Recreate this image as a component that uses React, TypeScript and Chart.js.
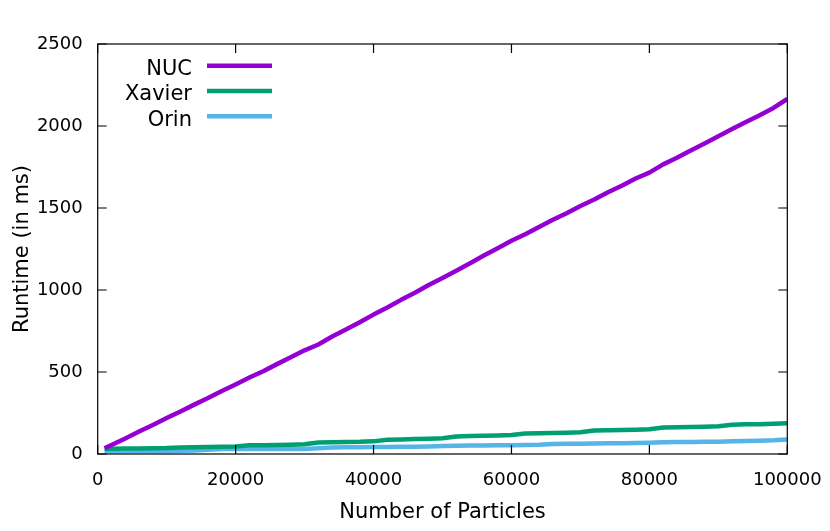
import React, { useEffect, useRef } from "react";
import { Chart, registerables } from "chart.js";

Chart.register(...registerables);

const particles = [1000, 2000, 4000, 6000, 8000, 10000, 12000, 14000, 16000, 18000, 20000, 22000, 24000, 26000, 28000, 30000, 32000, 34000, 36000, 38000, 40000, 42000, 44000, 46000, 48000, 50000, 52000, 54000, 56000, 58000, 60000, 62000, 64000, 66000, 68000, 70000, 72000, 74000, 76000, 78000, 80000, 82000, 84000, 86000, 88000, 90000, 92000, 94000, 96000, 98000, 100000];

const nucRuntime = [35, 55, 95, 137, 177, 219, 259, 301, 341, 384, 424, 466, 505, 548, 590, 632, 668, 716, 759, 803, 850, 893, 940, 983, 1030, 1073, 1118, 1163, 1210, 1255, 1300, 1340, 1384, 1428, 1468, 1512, 1552, 1596, 1636, 1680, 1716, 1766, 1806, 1851, 1893, 1937, 1981, 2024, 2066, 2110, 2165];

const xavierRuntime = [32, 32, 33, 34, 35, 36, 40, 41, 42, 44, 46, 53, 54, 55, 57, 59, 70, 72, 73, 74, 77, 87, 89, 91, 93, 96, 107, 109, 111, 113, 116, 125, 127, 128, 130, 133, 143, 145, 146, 148, 151, 161, 163, 164, 166, 169, 179, 181, 182, 184, 187];

const orinRuntime = [20, 19, 18, 18, 19, 19, 20, 21, 26, 30, 31, 30, 30, 30, 31, 31, 35, 40, 41, 41, 42, 43, 44, 44, 46, 49, 51, 52, 52, 53, 54, 55, 57, 61, 62, 63, 64, 65, 66, 67, 69, 72, 73, 73, 74, 75, 77, 79, 81, 84, 89];

const seriesLabels = ["NUC", "Xavier", "Orin"];
const seriesColors = ["#9400D3", "#009E73", "#56B4E9"];
const xTicks = [0, 20000, 40000, 60000, 80000, 100000];
const yTicks = [0, 500, 1000, 1500, 2000, 2500];

const FONT = "'DejaVu Sans', sans-serif";

const framePlugin = {
  id: "gnuplotFrame",
  afterDatasetsDraw(chart: any) {
    const { ctx, chartArea, scales } = chart;
    const { left, right, top, bottom } = chartArea;
    const tl = 9;
    ctx.save();
    ctx.strokeStyle = "#000";
    ctx.lineWidth = 1.2;
    ctx.beginPath();
    for (const v of xTicks) {
      const px = scales.x.getPixelForValue(v);
      ctx.moveTo(px, bottom);
      ctx.lineTo(px, bottom - tl);
      ctx.moveTo(px, top);
      ctx.lineTo(px, top + tl);
    }
    for (const v of yTicks) {
      const py = scales.y.getPixelForValue(v);
      ctx.moveTo(left, py);
      ctx.lineTo(left + tl, py);
      ctx.moveTo(right, py);
      ctx.lineTo(right - tl, py);
    }
    ctx.stroke();
    ctx.strokeRect(left, top, right - left, bottom - top);

    // legend
    ctx.font = `21px ${FONT}`;
    ctx.textAlign = "right";
    ctx.textBaseline = "alphabetic";
    const textRight = 192;
    const lineX0 = 207;
    const lineX1 = 272;
    const rowY0 = 65.7;
    const rowGap = 25.3;
    chart.data.datasets.forEach((ds: any, i: number) => {
      const y = rowY0 + i * rowGap;
      ctx.fillStyle = "#000";
      ctx.fillText(ds.label, textRight, y + 9.3);
      ctx.strokeStyle = ds.borderColor;
      ctx.lineWidth = 4.5;
      ctx.beginPath();
      ctx.moveTo(lineX0, y);
      ctx.lineTo(lineX1, y);
      ctx.stroke();
    });
    ctx.restore();
  },
};

export default function App() {
  const ref = useRef<HTMLCanvasElement | null>(null);
  useEffect(() => {
    if (!ref.current) return;
    const series = [nucRuntime, xavierRuntime, orinRuntime];
    const chart = new Chart(ref.current, {
      type: "line",
      data: {
        datasets: series.map((vals, i) => ({
          label: seriesLabels[i],
          data: particles.map((p, j) => ({ x: p, y: vals[j] })),
          borderColor: seriesColors[i],
          backgroundColor: seriesColors[i],
          borderWidth: 4.5,
          pointRadius: 0,
          tension: 0,
          borderJoinStyle: "round",
          borderCapStyle: "butt",
          fill: false,
        })),
      },
      options: {
        responsive: false,
        animation: false,
        layout: { padding: { top: 44, right: 42.7, left: 0, bottom: 0 } },
        plugins: { legend: { display: false }, tooltip: { enabled: false } },
        scales: {
          x: {
            type: "linear",
            min: 0,
            max: 100000,
            grid: { display: false, drawTicks: false },
            border: { display: false },
            ticks: {
              stepSize: 20000,
              color: "#000",
              padding: 16,
              maxRotation: 0,
              font: { family: FONT, size: 18 },
              callback: (v: any) => String(v),
            },
            title: {
              display: true,
              text: "Number of Particles",
              color: "#000",
              font: { family: FONT, size: 21 },
              padding: { top: 0, bottom: 6 },
            },
            afterFit: (s: any) => {
              s.height = 77;
              s.paddingLeft = 0;
              s.paddingRight = 0;
            },
          },
          y: {
            type: "linear",
            min: 0,
            max: 2500,
            grid: { display: false, drawTicks: false },
            border: { display: false },
            ticks: {
              stepSize: 500,
              color: "#000",
              padding: 15,
              font: { family: FONT, size: 18 },
              callback: (v: any) => String(v),
            },
            title: {
              display: true,
              text: "Runtime (in ms)",
              color: "#000",
              font: { family: FONT, size: 21 },
              padding: { top: 10, bottom: 0 },
            },
            afterFit: (s: any) => {
              s.width = 97.7;
              s.paddingTop = 0;
              s.paddingBottom = 0;
            },
          },
        },
      },
      plugins: [framePlugin],
    });
    return () => chart.destroy();
  }, []);
  return (
    <div style={{ position: "absolute", left: 0, top: 0, width: 830, height: 531, background: "#fff" }}>
      <canvas ref={ref} width={830} height={531} style={{ display: "block" }} />
    </div>
  );
}
